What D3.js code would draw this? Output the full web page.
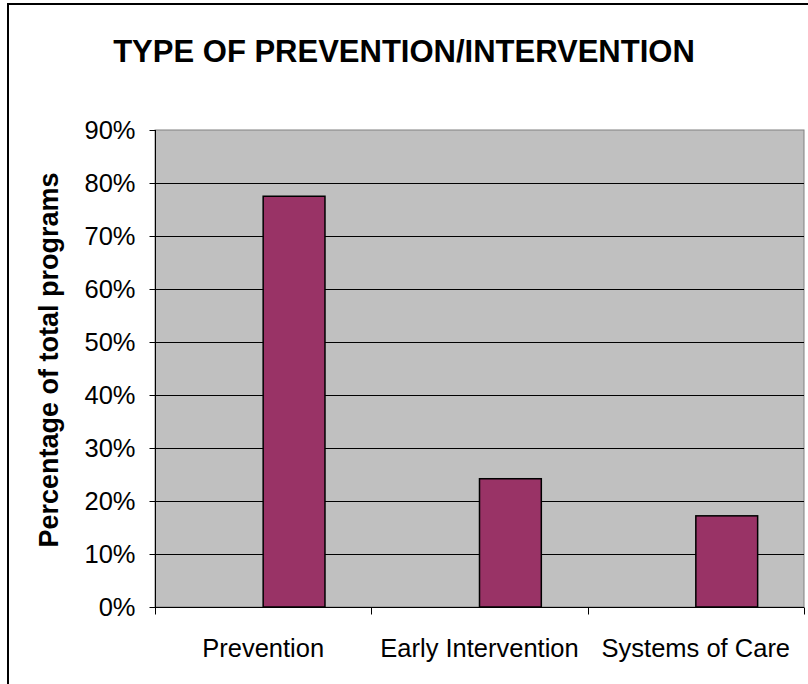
<!DOCTYPE html>
<html>
<head>
<meta charset="utf-8">
<script src="https://cdn.jsdelivr.net/npm/d3@7"></script>
<style>
  html, body { margin: 0; padding: 0; background: #fff; }
  svg { display: block; font-family: "Liberation Sans", Arial, sans-serif; }
</style>
</head>
<body>
<svg id="chart" width="808" height="684"></svg>
<script>
// Share of programs by type of prevention / intervention
const categories = ["Prevention", "Early Intervention", "Systems of Care"];
const values = [77.5, 24.2, 17.2];
const yTicks = [0, 10, 20, 30, 40, 50, 60, 70, 80, 90];
const titleText = "TYPE OF PREVENTION/INTERVENTION";
const yTitle = "Percentage of total programs";

const svg = d3.select("#chart");
const W = 808, H = 684;
const plot = { left: 155, right: 804, top: 130, bottom: 607 };

// outer frame
svg.append("rect")
  .attr("x", 8).attr("y", 4)
  .attr("width", W + 10).attr("height", H + 10)
  .attr("fill", "#fff").attr("stroke", "#000").attr("stroke-width", 2);

const x = d3.scaleBand()
  .domain(categories)
  .range([plot.left, plot.right])
  .padding(0);

const y = d3.scaleLinear()
  .domain([0, 90])
  .range([plot.bottom, plot.top]);

// plot background
svg.append("rect")
  .attr("x", plot.left).attr("y", plot.top)
  .attr("width", plot.right - plot.left).attr("height", plot.bottom - plot.top)
  .attr("fill", "#C0C0C0").attr("stroke", "#808080").attr("stroke-width", 1);

// horizontal gridlines
svg.append("g")
  .selectAll("line")
  .data(yTicks.filter(t => t > 0 && t < 90))
  .join("line")
  .attr("x1", plot.left).attr("x2", plot.right)
  .attr("y1", d => Math.round(y(d)) + 0.5).attr("y2", d => Math.round(y(d)) + 0.5)
  .attr("stroke", "#000").attr("stroke-width", 1);

// bars: each occupies the right half-slot of its category's cluster
const barW = x.bandwidth() / 3.5;
svg.append("g")
  .selectAll("rect")
  .data(categories.map((c, i) => ({ c, v: values[i] })))
  .join("rect")
  .attr("x", d => x(d.c) + x.bandwidth() / 2)
  .attr("y", d => y(d.v))
  .attr("width", barW)
  .attr("height", d => y(0) - y(d.v))
  .attr("fill", "#993366")
  .attr("stroke", "#000")
  .attr("stroke-width", 1.5);

// y axis
const yAxis = d3.axisLeft(y)
  .tickValues(yTicks)
  .tickFormat(d => d + "%")
  .tickSize(6)
  .tickPadding(14);
const gy = svg.append("g")
  .attr("transform", `translate(${plot.left + 0.5},0)`)
  .call(yAxis);
gy.select(".domain").attr("stroke", "#000").attr("d", `M0,${plot.top}V${plot.bottom}`);
gy.selectAll(".tick line").attr("stroke", "#000");
gy.selectAll(".tick text")
  .attr("font-size", 25.5)
  .attr("fill", "#000")
  .attr("font-family", "'Liberation Sans', Arial, sans-serif");

// x axis: ticks sit at category boundaries
const gx = svg.append("g")
  .attr("transform", `translate(0,${plot.bottom + 0.5})`);
gx.append("line")
  .attr("x1", plot.left).attr("x2", plot.right)
  .attr("stroke", "#000");
const bounds = categories.map(c => x(c)).concat([x(categories[categories.length - 1]) + x.bandwidth()]);
gx.selectAll("line.tk")
  .data(bounds)
  .join("line")
  .attr("class", "tk")
  .attr("x1", d => Math.round(d) + 0.5).attr("x2", d => Math.round(d) + 0.5)
  .attr("y1", 0).attr("y2", 7)
  .attr("stroke", "#000");
gx.selectAll("text")
  .data(categories)
  .join("text")
  .attr("x", d => x(d) + x.bandwidth() / 2)
  .attr("y", 49)
  .attr("text-anchor", "middle")
  .attr("font-size", 25.5)
  .attr("fill", "#000")
  .text(d => d);

// chart title
svg.append("text")
  .attr("x", W / 2)
  .attr("y", 62)
  .attr("text-anchor", "middle")
  .attr("font-size", 31)
  .attr("font-weight", "bold")
  .attr("fill", "#000")
  .text(titleText);

// y axis title
svg.append("text")
  .attr("transform", `translate(58,360) rotate(-90)`)
  .attr("text-anchor", "middle")
  .attr("font-size", 27)
  .attr("font-weight", "bold")
  .attr("fill", "#000")
  .text(yTitle);
</script>
</body>
</html>
